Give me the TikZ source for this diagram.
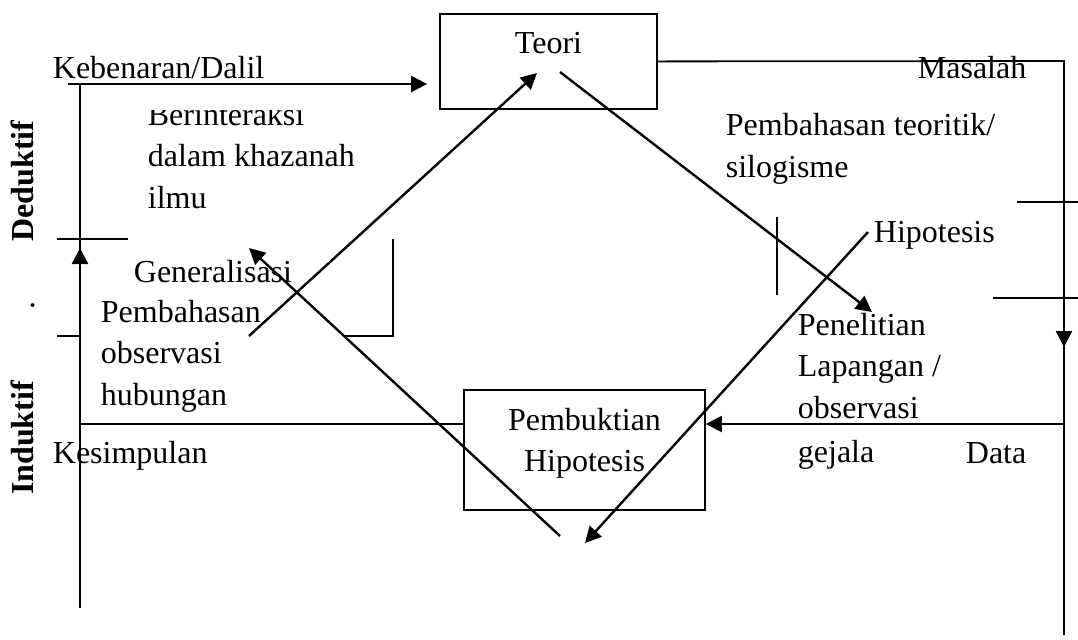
\documentclass[tikz,border=0pt]{standalone}
\usepackage{fontspec}
\setmainfont{Liberation Serif}
\usetikzlibrary{arrows.meta}
\begin{document}
\begin{tikzpicture}[x=0.5pt, y=-0.5pt, line width=0.9pt,
    every node/.style={font=\fontsize{16}{20.75}\selectfont, inner sep=0pt},
    lbl/.style={anchor=base west, align=left},
    side/.style={rotate=90, anchor=base, font=\fontsize{16}{20}\selectfont\bfseries},
    box/.style={draw, line width=0.9pt, align=center, anchor=north},
    arr/.style={-{Triangle[length=8pt, width=8pt]}, line width=1.2pt}]
    \useasboundingbox (0,0) rectangle (1078,639);
    % boxes
    \node[box, minimum width=108.5pt, text height=20pt, text depth=27.5pt] (teori) at (548.5,13) {Teori};
    \node[box, minimum width=120.5pt, text height=41pt, text depth=19pt] (bukti) at (584.5,389) {Pembuktian\\Hipotesis};
    % labels (multi-line ones sit on their last line)
    \node[lbl] (dalil) at (52,78) {Kebenaran/Dalil};
    \begin{scope}
        \clip (140,110) rectangle (380,230);
        \node[lbl] (interaksi) at (147,208) {Berinteraksi\\dalam khazanah\\ilmu};
    \end{scope}
    \node[lbl] (general) at (133,282) {Generalisasi};
    \node[lbl] (obs) at (100,405) {Pembahasan\\observasi\\hubungan};
    \node[lbl] (simpul) at (52,463) {Kesimpulan};
    \node[lbl] (masalah) at (917,78) {Masalah};
    \node[lbl] (silog) at (725,177) {Pembahasan teoritik/\\silogisme};
    \node[lbl] (hipo) at (873,242) {Hipotesis};
    \node[lbl] (lapangan) at (797,418) {Penelitian\\Lapangan /\\observasi};
    \node[lbl] (gejala) at (797,462) {gejala};
    \node[lbl] (data) at (965,463) {Data};
    \node[side] (deduktif) at (33,181) {Deduktif};
    \node[side] (induktif) at (33,438) {Induktif};
    \node[rotate=90, anchor=base] (titik) at (34,305) {.};
    % left frame
    \coordinate (kiriatas) at (80,84);
    \coordinate (kiribawah) at (80,608);
    \coordinate (kiripanah) at (80,248);
    \coordinate (dalilawal) at (68,84);
    \coordinate (kiritengah) at (80,424);
    \draw (kiriatas) -- (kiribawah);
    \draw[arr] (kiribawah) -- (kiripanah);
    \draw[arr] (dalilawal) -- ([xshift=-6pt]dalilawal -| teori.west);
    \draw (kiritengah) -- (kiritengah -| bukti.west);
    \draw (57,239) -- (128,239);
    \draw (57,336) -- (80,336);
    % right frame
    \coordinate (kananatas) at (1064,61);
    \coordinate (kananbawah) at (1064,635);
    \coordinate (kananpanah) at (1064,347);
    \coordinate (kanantengah) at (1064,424);
    \draw (teori.east) -- (kananatas) -- (kananbawah);
    \draw[arr] (kananatas) -- (kananpanah);
    \draw[arr] (kanantengah) -- (kanantengah -| bukti.east);
    \draw (1017,202) -- (1078,202);
    \draw (993,298) -- (1078,298);
    % short marks
    \draw (777,217) -- (777,295);
    \draw (393,239) -- (393,336) -- (343,336);
    % diagonals
    \coordinate (obsujung) at (249,336);
    \coordinate (teoribawah) at (537,73);
    \coordinate (teorikanan) at (560,72);
    \coordinate (penelitian) at (872,312);
    \coordinate (hipoujung) at (868,232);
    \coordinate (bawahkanan) at (585,543);
    \coordinate (bawahkiri) at (560,536);
    \coordinate (generalujung) at (249,248);
    \draw[arr] (obsujung) -- (teoribawah);
    \draw[arr] (teorikanan) -- (penelitian);
    \draw[arr] (hipoujung) -- (bawahkanan);
    \draw[arr] (bawahkiri) -- (generalujung);
\end{tikzpicture}
\end{document}
